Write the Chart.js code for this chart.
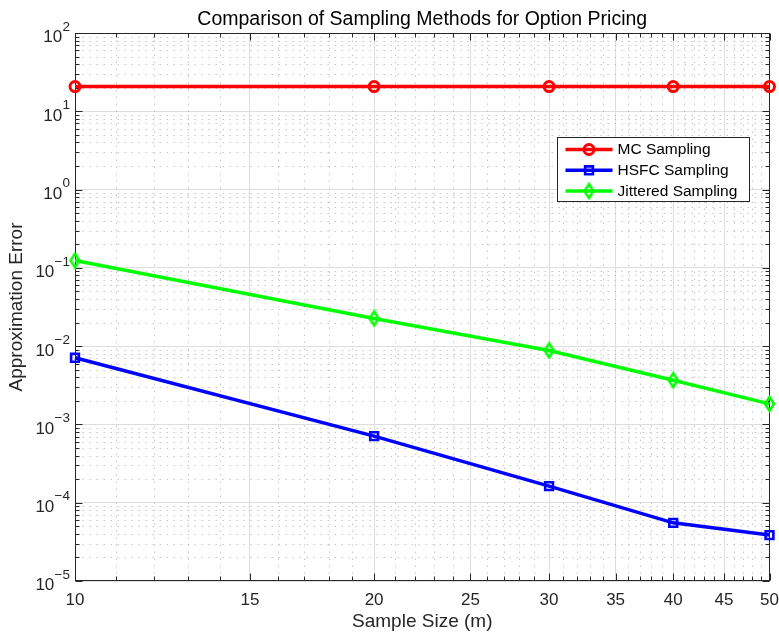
<!DOCTYPE html>
<html>
<head>
<meta charset="utf-8">
<script src="https://cdn.jsdelivr.net/npm/chart.js@4.4.1/dist/chart.umd.min.js"></script>
<style>
  body { margin: 0; background: #fff; }
  #wrap { width: 779px; height: 635px; }
</style>
</head>
<body>
<div id="wrap"><canvas id="chart"></canvas></div>
<script>
// values (log-log plot)
const sampleSizes = [10, 20, 30, 40, 50];
const mcError = [20.7, 20.7, 20.7, 20.7, 20.7];
const hsfcError = [0.0071, 0.00071, 0.000163, 0.0000553, 0.0000386];
const jitteredError = [0.124, 0.0226, 0.0088, 0.00367, 0.00183];

const seriesNames = ['MC Sampling', 'HSFC Sampling', 'Jittered Sampling'];
const xTickValues = [10, 15, 20, 25, 30, 35, 40, 45, 50];
const yTickValues = [1e-5, 1e-4, 1e-3, 1e-2, 1e-1, 1, 10, 100];
const yTickExponents = ['-5', '-4', '-3', '-2', '-1', '0', '1', '2'];

const FONT = "'Liberation Sans', Arial, Helvetica, sans-serif";
const AXIS = '#262626';

// minor ticks (matlab style): integers on x, 2..9 per decade on y
const xMinor = [];
for (let v = 11; v < 50; v++) if (v % 5) xMinor.push(v);
const yMinor = [];
for (let e = -5; e < 2; e++) for (let k = 2; k <= 9; k++) yMinor.push(k * Math.pow(10, e));

// tall open diamond like matlab's 'd' marker
function diamond(color) {
  const c = document.createElement('canvas');
  c.width = 13; c.height = 18;
  const g = c.getContext('2d');
  g.strokeStyle = color; g.lineWidth = 2.5;
  g.beginPath();
  g.moveTo(6.5, 2); g.lineTo(11, 9); g.lineTo(6.5, 16); g.lineTo(2, 9);
  g.closePath(); g.stroke();
  return c;
}

const pts = arr => sampleSizes.map((x, i) => ({ x, y: arr[i] }));

const datasets = [
  { label: seriesNames[0], data: pts(mcError), borderColor: '#ff0000', pointStyle: 'circle', pointRadius: 5, pointBorderWidth: 3 },
  { label: seriesNames[1], data: pts(hsfcError), borderColor: '#0000ff', pointStyle: 'rect', pointRadius: 5.5, pointBorderWidth: 2.6 },
  { label: seriesNames[2], data: pts(jitteredError), borderColor: '#00ff00', pointStyle: diamond('#00ff00'), pointRadius: 7, pointBorderWidth: 2.5 }
].map(d => Object.assign(d, {
  borderWidth: 3.5, pointBorderColor: d.borderColor, pointBackgroundColor: 'rgba(255,255,255,0)',
  fill: false, tension: 0, clip: false
}));

function line(ctx, x1, y1, x2, y2) {
  ctx.beginPath(); ctx.moveTo(x1, y1); ctx.lineTo(x2, y2); ctx.stroke();
}

const matlabAxes = {
  id: 'matlabAxes',
  beforeDatasetsDraw(chart) {
    const { ctx, chartArea: a, scales: { x, y } } = chart;
    const L = Math.round(a.left) + 0.5, R = Math.round(a.right) - 0.5;
    const T = Math.round(a.top) + 0.5, B = Math.round(a.bottom) - 0.5;
    ctx.save();
    ctx.lineWidth = 1;
    ctx.strokeStyle = '#c6c6c6';
    ctx.setLineDash([1.5, 5.5]);
    xMinor.forEach(v => { const p = Math.round(x.getPixelForValue(v)) + 0.5; line(ctx, p, T, p, B); });
    yMinor.forEach(v => { const p = Math.round(y.getPixelForValue(v)) + 0.5; line(ctx, L, p, R, p); });
    ctx.setLineDash([]);

    ctx.strokeStyle = AXIS;
    // ticks point inward on all four sides
    const tick = (v, len, sc, horiz) => {
      const p = Math.round(sc.getPixelForValue(v)) + 0.5;
      if (horiz) { line(ctx, p, B, p, B - len); line(ctx, p, T, p, T + len); }
      else { line(ctx, L, p, L + len, p); line(ctx, R, p, R - len, p); }
    };
    xTickValues.forEach(v => tick(v, 7, x, true));
    xMinor.forEach(v => tick(v, 4, x, true));
    yTickValues.forEach(v => tick(v, 7, y, false));
    yMinor.forEach(v => tick(v, 4, y, false));
    ctx.strokeRect(L, T, R - L, B - T);

    // y tick labels: 10 with a raised exponent
    ctx.fillStyle = AXIS;
    ctx.textBaseline = 'alphabetic';
    ctx.textAlign = 'left';
    const right = a.left - 5;
    yTickValues.forEach((v, i) => {
      const p = y.getPixelForValue(v);
      const e = yTickExponents[i].replace('-', '\u2212');
      ctx.font = '13.5px ' + FONT;
      const ew = ctx.measureText(e).width;
      ctx.fillText(e, right - ew, p - 2.3);
      ctx.font = '17px ' + FONT;
      const bw = ctx.measureText('10').width;
      ctx.fillText('10', right - ew - bw - 0.3, p + 9.4);
    });
    ctx.restore();
  },
  afterDatasetsDraw(chart) {
    const { ctx, chartArea: a } = chart;
    const lx = Math.round(a.right - 212.5) + 0.5, ly = Math.round(a.top + 104) + 0.5;
    const w = 192, h = 64;
    ctx.save();
    ctx.fillStyle = '#fff';
    ctx.fillRect(lx, ly, w, h);
    ctx.strokeStyle = AXIS; ctx.lineWidth = 1;
    ctx.strokeRect(lx, ly, w, h);
    ctx.font = '15.5px ' + FONT;
    ctx.textBaseline = 'middle';
    chart.data.datasets.forEach((d, i) => {
      const ry = ly + 12 + i * 20.8;
      ctx.strokeStyle = d.borderColor; ctx.lineWidth = 3.5;
      line(ctx, lx + 8, ry, lx + 55, ry);
      ctx.lineWidth = d.pointBorderWidth;
      ctx.fillStyle = 'rgba(255,255,255,0)';
      Chart.helpers.drawPoint(ctx, { pointStyle: d.pointStyle, radius: d.pointRadius, borderWidth: d.pointBorderWidth, rotation: 0 }, lx + 31.5, ry);
      ctx.fillStyle = '#000';
      ctx.fillText(d.label, lx + 60, ry + 0.5);
    });
    ctx.restore();
  }
};

new Chart(document.getElementById('chart'), {
  type: 'line',
  data: { datasets },
  plugins: [matlabAxes],
  options: {
    responsive: true,
    maintainAspectRatio: false,
    animation: false,
    layout: { padding: { top: 0, right: 8.5, bottom: 0, left: 0 } },
    plugins: {
      legend: { display: false },
      tooltip: { enabled: false },
      title: {
        display: true, fullSize: false,
        text: 'Comparison of Sampling Methods for Option Pricing',
        color: '#000',
        font: { family: FONT, size: 19.5, weight: 'normal' },
        padding: { top: 8, bottom: 1.6 }
      }
    },
    scales: {
      x: {
        type: 'logarithmic', min: 10, max: 50,
        afterBuildTicks: s => { s.ticks = xTickValues.map(v => ({ value: v })); },
        afterFit: s => { s.height = 54; s.paddingLeft = 0; s.paddingRight = 0; },
        grid: { color: '#dedede', lineWidth: 1, drawTicks: false },
        border: { display: false },
        ticks: {
          autoSkip: false, maxRotation: 0, padding: 8.8, color: AXIS,
          font: { family: FONT, size: 17 },
          callback: v => String(v)
        },
        title: {
          display: true, text: 'Sample Size (m)', color: AXIS,
          font: { family: FONT, size: 19 }, padding: { top: 0, bottom: 2.2 }
        }
      },
      y: {
        type: 'logarithmic', min: 1e-5, max: 100,
        afterBuildTicks: s => { s.ticks = yTickValues.map(v => ({ value: v })); },
        afterFit: s => { s.width = 75; s.paddingTop = 0; s.paddingBottom = 0; },
        grid: { color: '#dedede', lineWidth: 1, drawTicks: false },
        border: { display: false },
        ticks: { display: false },
        title: {
          display: true, text: 'Approximation Error', color: AXIS,
          font: { family: FONT, size: 19 }, padding: { top: 5, bottom: 0 }
        }
      }
    }
  }
});
</script>
</body>
</html>
